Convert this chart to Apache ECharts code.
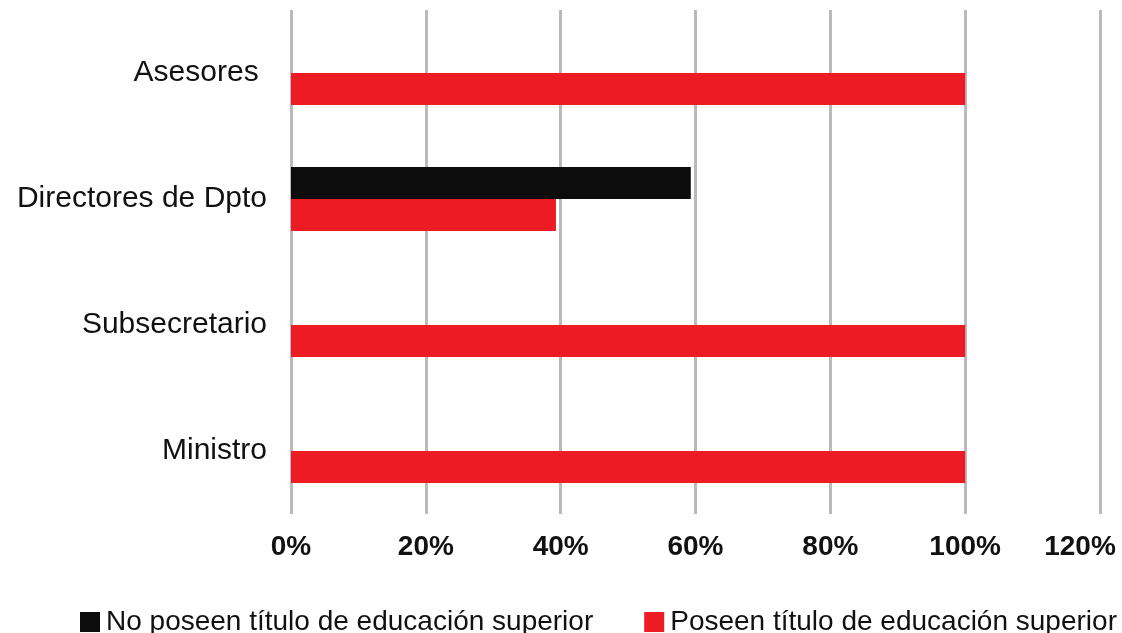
<!DOCTYPE html>
<html>
<head>
<meta charset="utf-8">
<script src="https://cdn.jsdelivr.net/npm/echarts@6/dist/echarts.min.js"></script>
<style>
html,body{margin:0;padding:0;background:#fff;}
#chart{width:1122px;height:633px;}
</style>
</head>
<body>
<div id="chart"></div>
<script>
const categories = ['Asesores ', 'Directores de Dpto', 'Subsecretario', 'Ministro'];
const seriesNames = ['No poseen título de educación superior', 'Poseen título de educación superior'];
const noPoseen = [0, 59.3, 0, 0];
const poseen = [100, 39.3, 100, 100];
const xTicks = { min: 0, max: 120, interval: 20 };

const FONT = "'Liberation Sans', Arial, Helvetica, sans-serif";
const tickStyle = { fontFamily: FONT, fontSize: 28, fontWeight: 'bold', color: '#111' };
const chart = echarts.init(document.getElementById('chart'));
chart.setOption({
  animation: false,
  backgroundColor: '#ffffff',
  grid: { left: 291, right: 22, top: 10, bottom: 119, containLabel: false, outerBoundsMode: 'none' },
  legend: {
    left: 80, top: 608,
    itemWidth: 20, itemHeight: 20, itemGap: 51,
    icon: 'rect',
    padding: 0,
    textStyle: { fontFamily: FONT, fontSize: 28, color: '#111', padding: [0, 0, 0, 1] },
    data: seriesNames
  },
  xAxis: {
    type: 'value',
    min: xTicks.min, max: xTicks.max, interval: xTicks.interval,
    axisLine: { show: false },
    axisTick: { show: false },
    splitLine: { show: true, lineStyle: { color: '#bababa', width: 3 } },
    axisLabel: Object.assign({
      formatter: function (v) {
        return v === xTicks.max ? '{m|' + v + '%}' : v + '%';
      },
      margin: 19,
      rich: { m: Object.assign({ padding: [0, 40, 0, 0] }, tickStyle) }
    }, tickStyle)
  },
  yAxis: {
    type: 'category',
    data: categories,
    inverse: true,
    axisLine: { show: false },
    axisTick: { show: false },
    splitLine: { show: false },
    axisLabel: { fontFamily: FONT, fontSize: 30, color: '#111', margin: 24 }
  },
  series: [
    {
      name: seriesNames[0], type: 'bar', data: noPoseen,
      barWidth: 32, barGap: '0%',
      itemStyle: { color: '#0c0c0c' }
    },
    {
      name: seriesNames[1], type: 'bar', data: poseen,
      barWidth: 32, barGap: '0%',
      itemStyle: { color: '#ed1c24' }
    }
  ]
});
</script>
</body>
</html>
